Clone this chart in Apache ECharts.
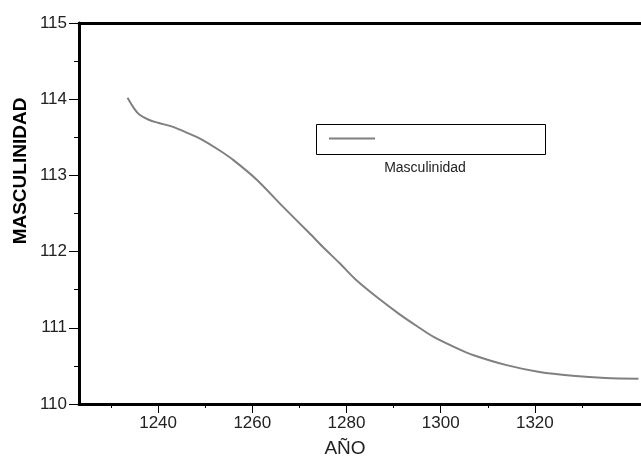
<!DOCTYPE html>
<html>
<head>
<meta charset="utf-8" />
<script src="https://cdn.jsdelivr.net/npm/echarts@6/dist/echarts.min.js"></script>
<style>
  html, body { margin: 0; padding: 0; background: #fff; }
  #chart { width: 641px; height: 457px; }
</style>
</head>
<body>
<div id="chart"></div>
<script type="text/javascript">
    // valores
    var years = [1233.5, 1235, 1236, 1238, 1240, 1243, 1245, 1249, 1253, 1256, 1261, 1266.5, 1272,
        1275, 1278.5, 1282, 1286.5, 1291, 1295, 1298.5, 1303.5, 1307, 1314, 1321, 1328, 1335, 1342];
    var masculinidad = [114.02, 113.87, 113.80, 113.73, 113.69, 113.64, 113.59, 113.48, 113.33, 113.20,
        112.94, 112.59, 112.25, 112.06, 111.85, 111.63, 111.40, 111.19, 111.02, 110.88, 110.73, 110.64,
        110.51, 110.42, 110.37, 110.34, 110.33];
    var xMajorTicks = [1240, 1260, 1280, 1300, 1320];
    var xMinorTicks = [1230, 1250, 1270, 1290, 1310, 1330];

    var font = '"Liberation Sans", Arial, sans-serif';
    var data = years.map(function (y, i) { return [y, masculinidad[i]]; });

    var chart = echarts.init(document.getElementById('chart'));
    var option = {
        animation: false,
        grid: {
            left: 79, right: -13, top: 23, bottom: 53,
            outerBoundsMode: 'none'
        },
        xAxis: [{
            type: 'value', min: 1223.2, max: 1345.3,
            axisLine: { lineStyle: { color: '#000', width: 3 } },
            axisTick: { customValues: xMajorTicks, length: 9, lineStyle: { color: '#000', width: 1 } },
            axisLabel: {
                customValues: xMajorTicks, color: '#222', fontSize: 17, fontFamily: font, margin: 11,
                formatter: function (v) { return String(v); }
            },
            splitLine: { show: false }
        }, {
            type: 'value', min: 1223.2, max: 1345.3, position: 'bottom',
            axisLine: { show: false },
            axisTick: { customValues: xMinorTicks, length: 4, lineStyle: { color: '#000', width: 1 } },
            axisLabel: { show: false },
            splitLine: { show: false }
        }, {
            // borde superior
            type: 'value', min: 1223.2, max: 1345.3, position: 'top',
            axisLine: { show: true, lineStyle: { color: '#000', width: 3 } },
            axisTick: { show: false },
            axisLabel: { show: false },
            splitLine: { show: false }
        }],
        yAxis: {
            type: 'value', min: 110, max: 115, interval: 1,
            axisLine: { show: true, lineStyle: { color: '#000', width: 3 } },
            axisTick: { show: true, length: 10, lineStyle: { color: '#000', width: 1 } },
            minorTick: { show: true, splitNumber: 2, length: 5, lineStyle: { color: '#000', width: 1 } },
            axisLabel: { color: '#222', fontSize: 17, fontFamily: font, margin: 12 },
            splitLine: { show: false }
        },
        graphic: [
            {
                type: 'text', x: 21, y: 171, rotation: Math.PI / 2,
                style: { text: 'MASCULINIDAD', fill: '#000', font: 'bold 19px ' + font, align: 'center', verticalAlign: 'middle' }
            },
            {
                type: 'text', x: 345, y: 449,
                style: { text: 'AÑO', fill: '#222', font: '19px ' + font, align: 'center', verticalAlign: 'middle' }
            },
            {
                type: 'rect', shape: { x: 316.5, y: 124.5, width: 229, height: 30 },
                style: { fill: '#fff', stroke: '#000', lineWidth: 1 }
            },
            {
                type: 'line', shape: { x1: 329, y1: 138.5, x2: 375, y2: 138.5 },
                style: { stroke: '#808080', lineWidth: 2 }
            },
            {
                type: 'text', x: 425, y: 168,
                style: { text: 'Masculinidad', fill: '#222', font: '14px ' + font, align: 'center', verticalAlign: 'middle' }
            }
        ],
        series: [{
            type: 'line',
            xAxisIndex: 0,
            data: data,
            smooth: 0.3,
            showSymbol: false,
            lineStyle: { color: '#808080', width: 2 }
        }]
    };
    chart.setOption(option);
</script>
</body>
</html>
